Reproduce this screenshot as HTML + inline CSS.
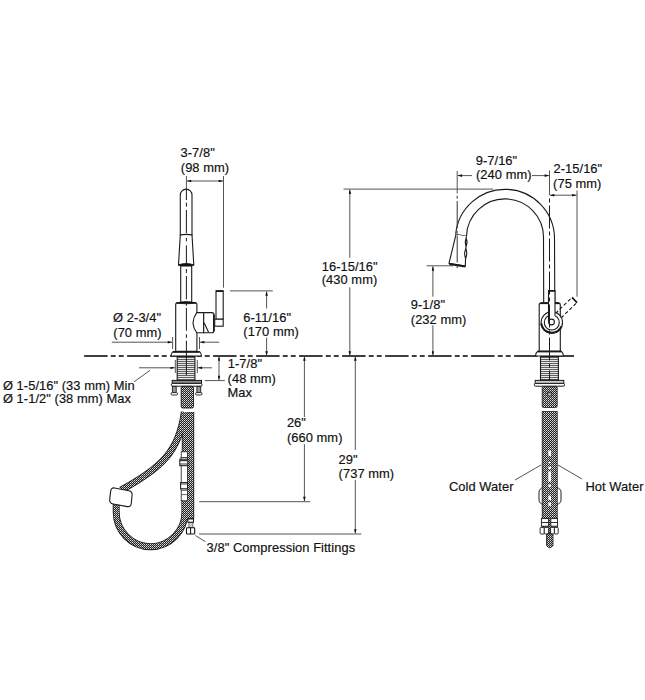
<!DOCTYPE html>
<html><head><meta charset="utf-8">
<style>
html,body{margin:0;padding:0;background:#fff;}
svg{display:block;}
text{font-family:"Liberation Sans",sans-serif;font-size:12.9px;letter-spacing:0.06px;fill:#111;stroke:#111;stroke-width:0.18px;}
</style></head>
<body>
<svg width="645" height="700" viewBox="0 0 645 700">
<defs>
<pattern id="braid" width="2" height="2" patternUnits="userSpaceOnUse" x="0" y="0">
<rect width="2" height="2" fill="#222"/>
<rect x="0" y="0" width="1" height="1" fill="#e0e0e0"/>
<rect x="1" y="1" width="1" height="1" fill="#a8a8a8"/>
</pattern>
<pattern id="thread" width="4" height="2" patternUnits="userSpaceOnUse" x="0" y="0">
<rect width="4" height="2" fill="#e8e8e8"/>
<rect y="1" width="4" height="1" fill="#606060"/>
</pattern>
<marker id="ah" viewBox="0 0 10 6" refX="10" refY="3" markerWidth="5.8" markerHeight="2.6" orient="auto-start-reverse" markerUnits="userSpaceOnUse">
<path d="M0,0 L10,3 L0,6 z" fill="#111"/>
</marker>
</defs>

<!-- ============ TEXT ============ -->
<text x="180.5" y="0" transform="translate(0,157.0) scale(1,0.93)">3-7/8"</text>
<text x="180.8" y="0" transform="translate(0,171.6) scale(1,0.93)">(98 mm)</text>
<text x="113.1" y="0" transform="translate(0,322.3) scale(1,0.93)">Ø 2-3/4"</text>
<text x="113.3" y="0" transform="translate(0,336.6) scale(1,0.93)">(70 mm)</text>
<text x="2.9" y="0" transform="translate(0,389.5) scale(1,0.93)">Ø 1-5/16" (33 mm) Min</text>
<text x="2.9" y="0" transform="translate(0,403.4) scale(1,0.93)">Ø 1-1/2" (38 mm) Max</text>
<text x="243.3" y="0" transform="translate(0,321.6) scale(1,0.93)">6-11/16"</text>
<text x="243.3" y="0" transform="translate(0,336.1) scale(1,0.93)">(170 mm)</text>
<text x="227.8" y="0" transform="translate(0,367.9) scale(1,0.93)">1-7/8"</text>
<text x="227.6" y="0" transform="translate(0,383.2) scale(1,0.93)">(48 mm)</text>
<text x="227.5" y="0" transform="translate(0,397.2) scale(1,0.93)">Max</text>
<text x="321.7" y="0" transform="translate(0,270.8) scale(1,0.93)">16-15/16"</text>
<text x="321.7" y="0" transform="translate(0,284.3) scale(1,0.93)">(430 mm)</text>
<text x="286.9" y="0" transform="translate(0,427.0) scale(1,0.93)">26"</text>
<text x="286.9" y="0" transform="translate(0,441.7) scale(1,0.93)">(660 mm)</text>
<text x="338.6" y="0" transform="translate(0,463.9) scale(1,0.93)">29"</text>
<text x="338.6" y="0" transform="translate(0,478.1) scale(1,0.93)">(737 mm)</text>
<text x="206.6" y="0" transform="translate(0,551.8) scale(1,0.93)">3/8" Compression Fittings</text>
<text x="475.7" y="0" transform="translate(0,164.8) scale(1,0.93)">9-7/16"</text>
<text x="476.0" y="0" transform="translate(0,179.4) scale(1,0.93)">(240 mm)</text>
<text x="553.5" y="0" transform="translate(0,173.3) scale(1,0.93)">2-15/16"</text>
<text x="553.1" y="0" transform="translate(0,187.6) scale(1,0.93)">(75 mm)</text>
<text x="410.8" y="0" transform="translate(0,309.4) scale(1,0.93)">9-1/8"</text>
<text x="410.8" y="0" transform="translate(0,324.0) scale(1,0.93)">(232 mm)</text>
<text x="449.0" y="0" transform="translate(0,490.5) scale(1,0.93)">Cold Water</text>
<text x="585.5" y="0" transform="translate(0,490.7) scale(1,0.93)">Hot Water</text>

<!-- ============ COUNTERTOP DASHED LINE ============ -->
<line x1="84.1" y1="356" x2="574" y2="356" stroke="#000" stroke-width="1.6" stroke-dasharray="23.5 3.2 4.9 3.1 4.9 3.4"/>

<!-- ============ DIMENSIONS ============ -->
<g stroke="#555" stroke-width="1" fill="none">
<!-- 3-7/8 -->
<line x1="186.4" y1="176" x2="186.4" y2="189"/>
<line x1="223.5" y1="176" x2="223.5" y2="287.7"/>
<line x1="186.9" y1="181" x2="223" y2="181" marker-start="url(#ah)" marker-end="url(#ah)"/>
<!-- dia 2-3/4 -->
<line x1="172.6" y1="337" x2="172.6" y2="349"/>
<line x1="199.5" y1="337" x2="199.5" y2="349"/>
<line x1="111.8" y1="342.2" x2="172.1" y2="342.2" marker-end="url(#ah)"/>
<line x1="219.3" y1="342.2" x2="200" y2="342.2" marker-end="url(#ah)"/>
<!-- dia min max -->
<line x1="175.3" y1="360" x2="175.3" y2="373"/>
<line x1="197.3" y1="360" x2="197.3" y2="373"/>
<line x1="139" y1="367.8" x2="174.8" y2="367.8" marker-end="url(#ah)"/>
<line x1="212" y1="367.8" x2="197.8" y2="367.8" marker-end="url(#ah)"/>
<line x1="134" y1="381.8" x2="150" y2="370.4"/>
<!-- 6-11/16 -->
<line x1="230" y1="290.9" x2="272.8" y2="290.9"/>
<line x1="266.6" y1="308.5" x2="266.6" y2="291.4" marker-end="url(#ah)"/>
<line x1="266.6" y1="337.7" x2="266.6" y2="355.5" marker-end="url(#ah)"/>
<!-- 1-7/8 -->
<line x1="219" y1="368" x2="219" y2="356.5" marker-end="url(#ah)"/>
<line x1="219" y1="368" x2="219" y2="380.1" marker-end="url(#ah)"/>
<line x1="204.7" y1="380.6" x2="224.8" y2="380.6"/>
<!-- 16-15/16 -->
<line x1="343.5" y1="189.1" x2="493.3" y2="189.1"/>
<line x1="349.8" y1="257.8" x2="349.8" y2="189.6" marker-end="url(#ah)"/>
<line x1="349.8" y1="287.3" x2="349.8" y2="355.5" marker-end="url(#ah)"/>
<!-- 26 -->
<line x1="304.4" y1="417" x2="304.4" y2="356.5" marker-end="url(#ah)"/>
<line x1="304.4" y1="444.2" x2="304.4" y2="501.2" marker-end="url(#ah)"/>
<line x1="199.2" y1="501.7" x2="310.2" y2="501.7"/>
<!-- 29 -->
<line x1="355.3" y1="450" x2="355.3" y2="356.5" marker-end="url(#ah)"/>
<line x1="355.3" y1="480" x2="355.3" y2="533.5" marker-end="url(#ah)"/>
<line x1="199" y1="534" x2="361.4" y2="534"/>
<!-- 3/8 leader -->
<line x1="195.4" y1="535.5" x2="205.5" y2="541.7"/>
<!-- 9-7/16 -->
<line x1="457.2" y1="171" x2="457.2" y2="193.5"/>

<line x1="472" y1="175.6" x2="457.7" y2="175.6" marker-end="url(#ah)"/>
<line x1="532" y1="175.6" x2="549" y2="175.6" marker-end="url(#ah)"/>
<line x1="549.5" y1="170.5" x2="549.5" y2="195"/>
<!-- 2-15/16 -->
<line x1="577" y1="190.5" x2="577" y2="296.7"/>
<line x1="550" y1="195.2" x2="576.5" y2="195.2" marker-start="url(#ah)" marker-end="url(#ah)"/>
<!-- 9-1/8 -->
<line x1="426.6" y1="265.8" x2="453" y2="265.8"/>
<line x1="432.9" y1="296.7" x2="432.9" y2="266.3" marker-end="url(#ah)"/>
<line x1="432.9" y1="325.3" x2="432.9" y2="355.5" marker-end="url(#ah)"/>
<!-- water leaders -->
<line x1="515" y1="480" x2="541" y2="465"/>
<line x1="558" y1="465" x2="582" y2="479"/>
</g>

<!-- ============ LEFT FAUCET ============ -->
<g id="leftfaucet" stroke="#1a1a1a" stroke-width="1.1" fill="#fff">
<!-- spout tip -->
<path d="M180.3,235 L180.3,195 A5.85,5.85 0 0 1 192,195 L192,235 Z"/>
<!-- taper -->
<path d="M180.3,235 Q186.2,233.8 192,235 L193.8,265 L178.5,265 Z"/>
<path d="M178.2,265 Q186.1,261.6 194,265 Q186.1,268.2 178.2,265 Z" fill="#111" stroke="#111" stroke-width="0.6"/>
<!-- neck -->
<rect x="180.7" y="266" width="11" height="36.5"/>
<!-- body -->
<path d="M175.7,351.3 L175.7,304.5 Q175.7,302.5 178,302.5 L194.6,302.5 Q196.9,302.5 196.9,304.5 L196.9,351.3 Z"/>
<path d="M176.4,303.2 Q186.3,300 196.1,303.2 Q186.3,304.4 176.4,303.2 Z" fill="#111" stroke="#111" stroke-width="0.8"/>
<!-- connector -->
<path d="M196.7,312.6 L203.7,312.6 L203.7,332.8 L196.7,332.8 Q189.4,322.7 196.7,312.6 Z"/>
<path d="M203.7,312.6 L211.8,312.6 Q213.9,312.6 213.9,315 L213.9,330.5 Q213.9,332.8 211.8,332.8 L203.7,332.8 Z"/>
<line x1="204.1" y1="322.7" x2="208.6" y2="332.3"/>
<line x1="213.9" y1="314.5" x2="213.9" y2="331.3" stroke-width="1.7"/>
<!-- handle -->
<rect x="216" y="290.9" width="7.2" height="28.3"/>
<rect x="214.7" y="319.2" width="8.5" height="7"/>
<line x1="216" y1="291.1" x2="223.2" y2="291.1" stroke-width="1.8"/>
<!-- flange -->
<path d="M173,351.7 L199.6,351.7 Q201.6,353.5 201.4,356 L170.9,356 Q171,353.5 173,351.7 Z"/>
<line x1="173" y1="351.9" x2="199.6" y2="351.9" stroke-width="1.8"/>
<!-- shank -->
<rect x="177.2" y="356.5" width="17.7" height="24.1" fill="url(#thread)"/>
<!-- nut plate -->
<rect x="172.2" y="380.4" width="29.3" height="3" fill="#8a8a8a" stroke-width="1"/>
<rect x="171.4" y="383.4" width="30.6" height="2.8" rx="1.3" stroke-width="1"/>
<!-- bolts -->
<rect x="172.4" y="386.5" width="3.8" height="6.2" fill="#999" stroke-width="0.9"/>
<rect x="196.9" y="386.5" width="3.8" height="6.2" fill="#999" stroke-width="0.9"/>
<rect x="171" y="392.6" width="6.6" height="2.4" rx="1.2" stroke-width="0.9"/>
<rect x="195.5" y="392.6" width="6.6" height="2.4" rx="1.2" stroke-width="0.9"/>
</g>
<!-- left centerline -->
<line x1="186.4" y1="189" x2="186.4" y2="375" stroke="#1a1a1a" stroke-width="1" stroke-dasharray="11 2.6 4.1 3.3 23.2 4.8 3.3 4.1 19.6 4 4 3 23.3 4.3 2.1 2.2 22.8 3.6 3.6 2.8 40 100"/>

<!-- left hoses -->
<g fill="none">
<rect x="181.2" y="386.3" width="12.3" height="21.7" rx="1.5" fill="url(#braid)" stroke="#1a1a1a" stroke-width="0.9"/>
<path id="hs" d="M188,412 L188,519"/>
<path d="M188,412 L188,519" stroke="#1a1a1a" stroke-width="12.4"/>
<path d="M184.3,412 C179.5,450.7 161.8,468 121,490" stroke="#1a1a1a" stroke-width="6.9"/>
<path d="M116.2,503 L116.2,512 C116.2,531 131.5,546.7 150.5,546.7 C169.5,546.7 185,531 185,512 L185,499" stroke="#1a1a1a" stroke-width="6.9"/>
<path d="M188,412.6 L188,518.4" stroke="url(#braid)" stroke-width="10.8"/>
<path d="M184.3,412 C179.5,450.7 161.8,468 121,490" stroke="url(#braid)" stroke-width="5.3"/>
<path d="M116.2,503 L116.2,512 C116.2,531 131.5,546.7 150.5,546.7 C169.5,546.7 185,531 185,512 L185,499" stroke="url(#braid)" stroke-width="5.3"/>
</g>
<!-- weight -->
<path d="M114.5,488 L128.8,490.8 Q132.4,491.5 132.1,495 L131.3,503.3 Q131,507.1 127.3,506.6 L113.2,504 Q109.4,503.3 109.7,499.6 L110.6,491.6 Q111,487.4 114.5,488 Z" fill="#fff" stroke="#1a1a1a" stroke-width="1.1"/>
<!-- fittings on hose -->
<rect x="181.2" y="451.8" width="6.2" height="49" fill="#fff" stroke="#222" stroke-width="0.8"/>
<rect x="179.8" y="459.2" width="8" height="6.5" fill="#fff" stroke="#111" stroke-width="1"/>
<line x1="180" y1="460.6" x2="187.6" y2="460.6" stroke="#333" stroke-width="1.2"/>
<line x1="180" y1="464" x2="187.6" y2="464" stroke="#333" stroke-width="1"/>
<line x1="180.5" y1="457.5" x2="187.3" y2="457.5" stroke="#444" stroke-width="1"/>
<rect x="180.6" y="482.6" width="7" height="6.2" fill="#fff" stroke="#111" stroke-width="1"/>
<line x1="180.8" y1="484" x2="187.4" y2="484" stroke="#444" stroke-width="1"/>
<line x1="180.8" y1="490.2" x2="187.4" y2="490.2" stroke="#444" stroke-width="1"/>
<line x1="181" y1="494.6" x2="187.2" y2="494.6" stroke="#555" stroke-width="0.9"/>
<!-- compression fitting -->
<rect x="188.9" y="522.3" width="4" height="5.2" fill="#ccc" stroke="#444" stroke-width="0.7"/>
<rect x="187.9" y="519" width="5.6" height="3.2" fill="#fff" stroke="#111" stroke-width="1"/>
<rect x="186.5" y="527.8" width="8.2" height="6.2" rx="0.8" fill="#fff" stroke="#111" stroke-width="1.1"/>
<line x1="190.6" y1="527.8" x2="190.6" y2="534" stroke="#111" stroke-width="1"/>
</g>

<!-- ============ RIGHT FAUCET ============ -->
<g stroke="#1a1a1a" stroke-width="1.1" fill="none">
<!-- spout outer & inner arcs -->
<path d="M455.7,234.4 A49.5,49.5 0 0 1 554.5,238.5 L554.8,302.9"/>
<path d="M466.5,236.3 A38.5,38.5 0 0 1 543.5,238.5 L543.7,302.9"/>
<line x1="456" y1="234.4" x2="466.3" y2="236.3"/>
<!-- spray head -->
<path d="M456,234.4 L449,263.3 L465.3,266 L466.3,236.3" fill="#fff"/>
<line x1="449.3" y1="264" x2="465.3" y2="266.5" stroke-width="2"/>
<path d="M466.2,238.8 Q464.4,242 466.2,245.8 Q467.9,242 466.2,238.8 Z" fill="#fff" stroke-width="1.1"/>
<path d="M465.8,249 Q463.6,253 465.6,258.5 Q467.8,253 465.8,249 Z" fill="#fff" stroke-width="1.1"/>
<!-- body -->
<path d="M539.2,351 L539.2,305 Q539.2,302.9 541.5,302.9 L558,302.9 Q560.3,302.9 560.3,305 L560.3,351" fill="#fff"/>
<line x1="540.5" y1="303.2" x2="559" y2="303.2" stroke-width="1.8"/>
<!-- dashed handle -->
<path d="M555.5,313.5 L572,297.4" stroke-dasharray="3.6 2.2" fill="none"/><path d="M561,318 L577,302.6" stroke-dasharray="3.6 2.2" fill="none"/><path d="M572,297.4 L577,302.6" stroke-width="1.7"/>
<!-- circle -->
<circle cx="551.8" cy="322.5" r="10.7" fill="#fff"/>
<path d="M541.2,323.5 A10.7,10.7 0 0 0 561.5,326.5" stroke-width="2.1"/>
<circle cx="551.8" cy="322.5" r="7.5"/>
<!-- handle vertical -->
<path d="M548.5,322 L548.5,290.5 L555,290.5 L555,315" fill="#fff"/>
<line x1="548.5" y1="290.9" x2="555" y2="290.9" stroke-width="1.8"/>
<circle cx="551.5" cy="322" r="2.9" fill="#fff"/>
<!-- flange -->
<path d="M537.8,351.3 L561.2,351.3 Q563.4,353 563.4,356 L535.5,356 Q535.5,353 537.8,351.3 Z" fill="#fff"/>
<line x1="537.8" y1="351.5" x2="561.2" y2="351.5" stroke-width="1.8"/>
<!-- shank -->
<rect x="540.5" y="356.5" width="17.9" height="23.7" fill="url(#thread)"/>
<!-- nut -->
<rect x="535.2" y="380.4" width="28.6" height="3" fill="#d0d0d0" stroke-width="1"/>
<rect x="534.3" y="383.4" width="30.3" height="2.8" rx="1.3" fill="#fff" stroke-width="1"/>
</g>
<g stroke="#333" stroke-width="1"><line x1="457.2" y1="195.7" x2="457.2" y2="198.7"/><line x1="457.2" y1="201" x2="457.2" y2="268" stroke-dasharray="27 3 2.5 2"/></g>
<line x1="549.5" y1="195.5" x2="549.5" y2="380.5" stroke="#1a1a1a" stroke-width="1" stroke-dasharray="23 3 4 3" stroke-dashoffset="23"/>
<!-- right hoses -->
<g>
<rect x="539" y="487.7" width="22" height="16.7" rx="4.5" fill="none" stroke="#222" stroke-width="1"/>
<rect x="542.2" y="386.4" width="15" height="21.1" rx="1.5" fill="url(#braid)" stroke="#1a1a1a" stroke-width="0.8"/>
<rect x="542.2" y="411.6" width="15" height="122" fill="url(#braid)" stroke="#1a1a1a" stroke-width="0.8"/>
<path d="M546.8,393.2 Q549.6,392.2 552.4,393.2 Q551.8,396.2 549.6,396.2 Q547.4,396.2 546.8,393.2 Z" fill="#bbb" stroke="#111" stroke-width="0.9"/>
<rect x="548.3" y="450.5" width="2.8" height="5.5" rx="1" fill="#fff"/>
<rect x="548.4" y="462" width="2.6" height="1.2" fill="#fff"/>
<rect x="548.4" y="466.7" width="2.6" height="2.4" fill="#fff"/>
<rect x="548.3" y="471.4" width="2.8" height="10.2" fill="#fff"/>
<ellipse cx="549.7" cy="485.8" rx="1.3" ry="1.5" fill="#fff"/>
<rect x="548.4" y="495.6" width="2.6" height="4.4" fill="#fff"/>
<rect x="548.4" y="502.6" width="2.6" height="3.2" fill="#fff"/>
<g fill="#fff" stroke="#1a1a1a" stroke-width="0.9">
<rect x="541.4" y="518.6" width="7.2" height="7.6"/>
<rect x="550.8" y="518.6" width="6.8" height="7.6"/>
<line x1="541.4" y1="522.5" x2="548.6" y2="522.5"/>
<line x1="550.8" y1="522.5" x2="557.6" y2="522.5"/>
<rect x="540.1" y="527.4" width="4.2" height="6.6" rx="1"/>
<rect x="544.3" y="527.4" width="4.3" height="6.6" rx="1"/>
<rect x="550.6" y="527.4" width="3.8" height="6.6" rx="1"/>
<rect x="554.4" y="527.4" width="3.8" height="6.6" rx="1"/>
</g>
<path d="M546.5,534 L553,534 L553,545.5 Q549.75,550 546.5,545.5 Z" fill="url(#braid)" stroke="#1a1a1a" stroke-width="0.8"/>
</g>
</svg>
</body></html>
